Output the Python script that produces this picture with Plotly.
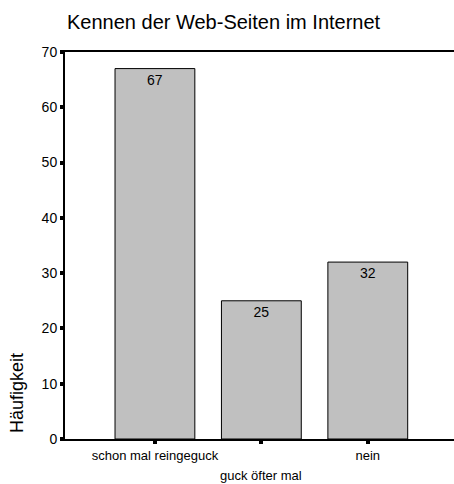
import plotly.graph_objects as go

categories = ["schon mal reingeguck", "guck öfter mal", "nein"]
values = [67, 25, 32]
y_ticks = [0, 10, 20, 30, 40, 50, 60, 70]

x_pos = list(range(len(categories)))
# staggered category labels: even positions on the axis, odd ones on a second row
tick_labels = [c if i % 2 == 0 else "" for i, c in enumerate(categories)]

FONT = "Liberation Sans, Arial"

fig = go.Figure(go.Bar(
    x=x_pos, y=values, width=0.75,
    marker=dict(color="#c0c0c0", line=dict(color="black", width=1)),
    text=[str(v) for v in values], textposition="inside", insidetextanchor="end",
    textfont=dict(family=FONT, size=14, color="black"),
    cliponaxis=False,
))

annotations = [dict(text="Häufigkeit", textangle=-90, xref="paper", yref="paper",
                    x=-48/389, xanchor="center", y=(439-393)/387, yanchor="middle",
                    showarrow=False, font=dict(size=18))]
for i, c in enumerate(categories):
    if i % 2 == 1:
        annotations.append(dict(text=c, xref="x", yref="paper", x=i, y=-(475-439)/387,
                                xanchor="center", yanchor="middle", showarrow=False,
                                font=dict(size=13)))

fig.update_layout(
    width=454, height=484,
    margin=dict(l=65, r=0, t=52, b=45),
    paper_bgcolor="white", plot_bgcolor="white",
    showlegend=False,
    font=dict(family=FONT, color="black"),
    title=dict(text="Kennen der Web-Seiten im Internet", x=67/454, xanchor="left",
               y=1 - 22/484, yanchor="middle", font=dict(size=20)),
    xaxis=dict(range=[-0.845, 2.81], tickvals=x_pos, ticktext=tick_labels,
               showline=True, linecolor="black", linewidth=2, mirror=True,
               ticks="outside", ticklen=3, tickwidth=4, tickcolor="black",
               showgrid=False, zeroline=False, tickfont=dict(size=13)),
    yaxis=dict(range=[0, 70], tickvals=y_ticks, showline=True, linecolor="black",
               linewidth=2, ticks="outside", ticklen=3, tickwidth=4, tickcolor="black",
               showgrid=False, zeroline=False, tickfont=dict(size=14)),
    annotations=annotations,
)

fig.write_html("out.html", config={"displayModeBar": False},
               post_script="document.body.style.margin='0';document.body.style.overflow='hidden';")
